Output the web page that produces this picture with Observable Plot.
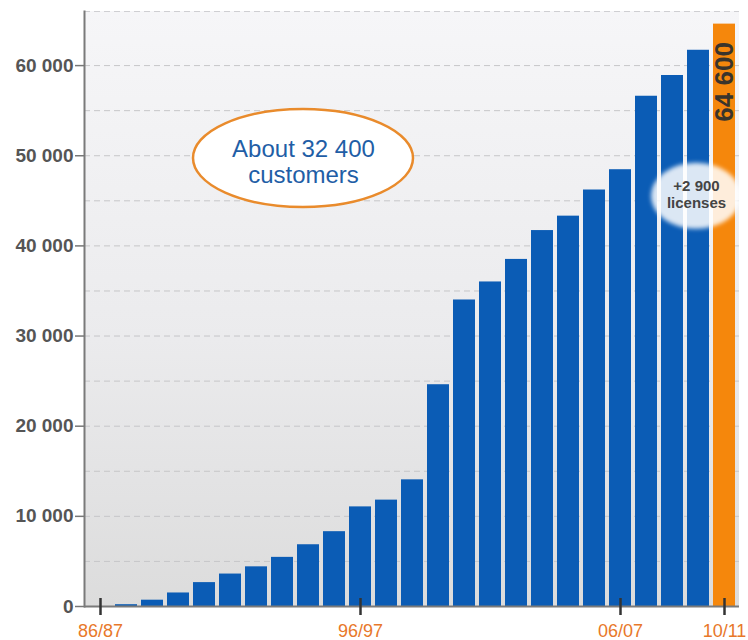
<!DOCTYPE html>
<html>
<head>
<meta charset="utf-8">
<script src="https://cdn.jsdelivr.net/npm/d3@7"></script>
<script src="https://cdn.jsdelivr.net/npm/@observablehq/plot@0.6"></script>
<style>
  html, body { margin: 0; padding: 0; background: #ffffff; }
  #chart { width: 748px; height: 640px; }
</style>
</head>
<body>
<div id="chart"></div>
<script>
// ---- data ----
const years = ["86/87","87/88","88/89","89/90","90/91","91/92","92/93","93/94","94/95","95/96",
               "96/97","97/98","98/99","99/00","00/01","01/02","02/03","03/04","04/05","05/06",
               "06/07","07/08","08/09","09/10","10/11"];
const licenses = [0, 200, 700, 1500, 2650, 3600, 4400, 5450, 6850, 8300,
                  11050, 11800, 14050, 24600, 34000, 36000, 38500, 41700, 43300, 46200,
                  48450, 56600, 58900, 61700, 64600];
const highlightYear = "10/11";
const xTickLabels = ["86/87", "96/97", "06/07", "10/11"];
const yTicks = [0, 10000, 20000, 30000, 40000, 50000, 60000];
const gridValues = [5000, 10000, 15000, 20000, 25000, 30000, 35000, 40000, 45000, 50000, 55000, 60000];
const yMax = 66000;
const totalLabel = "64 600";
const customerNote = {x: "94/95", y: 49700, text: "About 32 400\ncustomers"};
const licenseNote = {x: "09/10", y: 45500, text: "+2 900\nlicenses"};

// ---- styles ----
const BLUE = "#0b5cb5";
const ORANGE = "#f5870c";
const FONT = "'Liberation Sans', Arial, Helvetica, sans-serif";

const data = years.map((year, i) => ({year, value: licenses[i], highlight: year === highlightYear}));
const fmt = d => d3.format(",")(d).replace(/,/g, " ");

const background = (index, scales, values, dims) => {
  const g = d3.create("svg:g");
  const defs = g.append("defs");
  const lg = defs.append("linearGradient").attr("id", "bgGrad")
    .attr("x1", 0).attr("y1", 0).attr("x2", 0).attr("y2", 1);
  lg.append("stop").attr("offset", "0%").attr("stop-color", "#f6f6f8");
  lg.append("stop").attr("offset", "55%").attr("stop-color", "#ebebed");
  lg.append("stop").attr("offset", "100%").attr("stop-color", "#dcdcdc");
  const f = defs.append("filter").attr("id", "softEdge")
    .attr("x", "-20%").attr("y", "-20%").attr("width", "140%").attr("height", "140%");
  f.append("feGaussianBlur").attr("stdDeviation", 2.2);
  g.append("rect")
    .attr("x", dims.marginLeft).attr("y", dims.marginTop)
    .attr("width", dims.width - dims.marginLeft - dims.marginRight)
    .attr("height", dims.height - dims.marginTop - dims.marginBottom)
    .attr("fill", "url(#bgGrad)");
  return g.node();
};

function ellipseMark(note, {rx, ry, dx = 0, fill = "#fff", fillOpacity = 1, stroke = "none", strokeWidth = 0, filter = null}) {
  return (index, scales) => {
    const bw = scales.x.bandwidth ? scales.x.bandwidth() : 0;
    const cx = scales.x(note.x) + bw / 2 + dx;
    const cy = scales.y(note.y);
    const g = d3.create("svg:g");
    const e = g.append("ellipse")
      .attr("cx", cx).attr("cy", cy).attr("rx", rx).attr("ry", ry)
      .attr("fill", fill).attr("fill-opacity", fillOpacity)
      .attr("stroke", stroke).attr("stroke-width", strokeWidth);
    if (filter) e.attr("filter", filter);
    return g.node();
  };
}

const plot = Plot.plot({
  width: 748,
  height: 640,
  marginLeft: 84,
  marginRight: 9,
  marginTop: 11,
  marginBottom: 34,
  style: {fontFamily: FONT, background: "transparent", overflow: "visible"},
  x: {type: "band", domain: years, paddingInner: 0.16, paddingOuter: 0.08},
  y: {domain: [0, yMax]},
  marks: [
    background,
    Plot.ruleY(gridValues, {stroke: "#c6c6c8", strokeWidth: 1, strokeDasharray: "6,4"}),
    Plot.ruleY([yMax], {stroke: "#cfcfd2", strokeWidth: 1, strokeDasharray: "6,4"}),
    Plot.barY(data, {filter: d => !d.highlight, x: "year", y: "value", fill: BLUE}),
    Plot.barY(data, {filter: d => d.highlight, x: "year", y: "value", fill: ORANGE}),
    Plot.axisY({ticks: yTicks, tickFormat: fmt, tickSize: 9, tickPadding: 2, label: null,
                fontSize: 19, fontWeight: "bold", fill: "#555", stroke: "#777", strokeWidth: 1.5}),
    Plot.frame({anchor: "left", stroke: "#7a7a7a", strokeWidth: 2}),
    Plot.ruleY([0], {stroke: "#7a7a7a", strokeWidth: 2}),
    Plot.axisX({ticks: xTickLabels, tickSize: 17, dy: -8, tickPadding: 9, label: null,
                fontSize: 18, fill: "#e8782a", stroke: "#333", strokeWidth: 2.5}),
    Plot.text([{x: highlightYear, y: licenses[licenses.length - 1]}], {
      x: "x", y: "y", text: () => totalLabel, rotate: -90, textAnchor: "end", lineAnchor: "middle",
      dy: 18, fontSize: 26, fontWeight: "bold", fill: "#3a342c"
    }),
    ellipseMark(licenseNote, {rx: 45, ry: 33, dx: -2, fill: "#ffffff", fillOpacity: 0.85, filter: "url(#softEdge)"}),
    Plot.text([licenseNote], {
      x: "x", y: "y", text: "text", dx: -2, dy: -2, lineHeight: 1.15,
      fontSize: 15, fontWeight: "bold", fill: "#444"
    }),
    ellipseMark(customerNote, {rx: 110, ry: 49, dx: -5, fill: "#ffffff", stroke: "#e98b2c", strokeWidth: 2.5}),
    Plot.text([customerNote], {
      x: "x", y: "y", text: "text", dx: -5, dy: 3, lineHeight: 1.12,
      fontSize: 24, fill: "#1f5ea6"
    })
  ]
});

document.getElementById("chart").appendChild(plot);
</script>
</body>
</html>
